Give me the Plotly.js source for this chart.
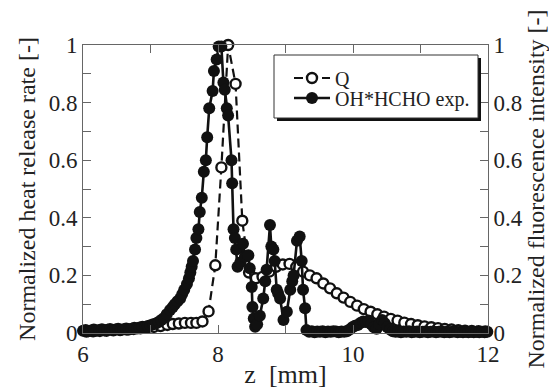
<!DOCTYPE html>
<html><head><meta charset="utf-8">
<script src="https://cdn.plot.ly/plotly-3.0.1.min.js"></script>
<style>html,body{margin:0;padding:0;background:#fff;}</style>
</head><body><div id="chart" style="width:549px;height:389px;"></div>
<script>
// Q (normalized heat release rate), open circles, dashed
const qZ = [6.05,6.15,6.25,6.35,6.45,6.55,6.65,6.75,6.85,6.95,7.05,7.15,7.25,7.33,
  7.42,7.51,7.60,7.68,7.77,7.86,7.96,8.05,8.15,8.26,8.36,8.46,8.56,8.66,8.76,8.86,
  8.96,9.06,9.16,9.26,9.36,9.46,9.56,9.66,9.76,9.86,9.96,10.06,10.16,10.26,10.36,
  10.46,10.56,10.66,10.76,10.86,10.96,11.06,11.16,11.26,11.36,11.46,11.56,11.66,
  11.76,11.86,11.96];
const qVal = [0.005,0.006,0.007,0.008,0.009,0.010,0.012,0.014,0.016,0.018,0.021,0.024,0.028,0.031,
  0.033,0.035,0.035,0.035,0.040,0.075,0.235,0.575,1.0,0.865,0.39,0.21,0.19,0.195,0.213,0.23,
  0.238,0.24,0.23,0.213,0.20,0.19,0.172,0.155,0.138,0.123,0.108,0.095,0.083,0.074,0.065,
  0.057,0.049,0.043,0.036,0.031,0.027,0.023,0.020,0.017,0.014,0.012,0.010,0.008,
  0.007,0.006,0.005];

// OH*HCHO experiment, filled circles, solid
const ohZ = [6.00,6.04,6.08,6.12,6.16,6.20,6.24,6.28,6.32,6.36,6.40,6.44,6.48,6.52,6.56,6.60,
  6.64,6.68,6.72,6.76,6.80,6.84,6.88,6.92,6.96,7.00,7.04,7.08,7.12,7.16,7.20,7.24,
  7.29,7.33,7.36,7.40,7.44,7.47,7.50,7.54,7.57,7.59,7.61,7.63,7.66,7.68,7.71,7.73,7.76,
  7.79,7.82,7.84,7.87,7.92,7.94,7.98,8.01,8.05,8.08,8.10,8.13,8.15,8.20,8.21,8.23,8.25,
  8.27,8.29,8.33,8.37,8.40,8.45,8.47,8.50,8.51,8.53,8.55,8.58,8.62,8.67,8.70,8.72,8.77,
  8.79,8.82,8.84,8.87,8.89,8.92,8.97,9.02,9.07,9.10,9.12,9.17,9.21,9.24,9.26,9.29,9.31,
  9.35,9.39,9.43,9.47,9.51,9.55,9.59,9.63,9.67,9.71,9.75,9.79,9.83,9.87,9.91,9.95,9.99,
  10.03,10.07,10.11,10.15,10.19,10.23,10.27,10.31,10.35,10.39,10.43,10.47,10.51,10.55,
  10.59,10.63,10.67,10.71,10.75,10.79,10.83,10.87,10.91,10.95,10.99,11.03,11.07,11.11,
  11.15,11.19,11.23,11.27,11.31,11.35,11.39,11.43,11.47,11.51,11.55,11.59,11.63,11.67,
  11.71,11.75,11.79,11.83,11.87,11.91,11.95,11.99];
const ohVal = [0.008,0.010,0.006,0.009,0.012,0.008,0.010,0.013,0.009,0.011,0.014,0.010,0.012,0.015,0.011,0.013,
  0.016,0.012,0.015,0.018,0.016,0.019,0.022,0.020,0.024,0.027,0.030,0.033,0.038,0.045,0.052,0.065,
  0.08,0.09,0.10,0.11,0.12,0.135,0.15,0.17,0.19,0.21,0.23,0.25,0.29,0.33,0.36,0.42,0.47,
  0.56,0.60,0.68,0.78,0.84,0.91,0.95,0.995,0.995,0.87,0.845,0.78,0.755,0.60,0.52,0.36,0.33,
  0.29,0.23,0.245,0.31,0.265,0.27,0.225,0.16,0.09,0.05,0.022,0.03,0.06,0.12,0.18,0.22,0.375,
  0.30,0.29,0.25,0.15,0.138,0.12,0.045,0.074,0.15,0.18,0.20,0.32,0.335,0.25,0.15,0.086,0.01,
  0.004,0.006,0.003,0.005,0.004,0.006,0.003,0.005,0.004,0.006,0.005,0.003,0.005,0.004,0.006,0.012,0.020,
  0.025,0.028,0.035,0.040,0.038,0.043,0.030,0.020,0.015,0.030,0.045,0.034,0.020,0.012,
  0.006,0.004,0.005,0.003,0.005,0.004,0.006,0.003,0.004,0.005,0.003,0.004,0.005,0.003,
  0.004,0.005,0.003,0.004,0.005,0.003,0.004,0.003,0.004,0.005,0.003,0.004,0.003,0.004,
  0.003,0.004,0.003,0.004,0.003,0.004,0.003,0.004];

const xTickVals = [6,8,10,12];
const yTickVals = [0,0.2,0.4,0.6,0.8,1];
const yTickText = ['0','0.2','0.4','0.6','0.8','1'];

const SERIF = 'Liberation Serif';
const AXC = '#666';

function tf(sz){ return {family:SERIF, size:sz, color:'#222'}; }

const traces = [
  {x:qZ, y:qVal, name:'Q', type:'scatter', mode:'lines+markers', cliponaxis:false, legend:'legend',
   line:{color:'#111', width:2.2, dash:'9px,5px'},
   marker:{symbol:'circle', size:10, color:'#fff', line:{color:'#111', width:2.4}}},
  {x:ohZ, y:ohVal, name:'OH*HCHO exp.', type:'scatter', mode:'lines+markers', yaxis:'y2', cliponaxis:false, legend:'legend2',
   line:{color:'#111', width:2.6},
   marker:{symbol:'circle', size:12, color:'#111'}}
];

function ax(extra){
  return Object.assign({
    ticks:'inside', ticklen:8, tickwidth:1, tickcolor:AXC,
    showline:true, linecolor:AXC, linewidth:1, showgrid:false, zeroline:false,
    tickfont:tf(23)
  }, extra);
}

function leg(ypx){
  return {x:(289-83)/405, xanchor:'left', y:(333-ypx)/288, yanchor:'middle',
    bgcolor:'rgba(0,0,0,0)', borderwidth:0, font:tf(20), itemwidth:36};
}

const layout = {
  width:549, height:389,
  margin:{l:83, r:61, t:45, b:56, pad:0},
  paper_bgcolor:'#fff', plot_bgcolor:'#fff',
  font:{family:SERIF, size:22, color:'#222'},
  showlegend:true,
  legend:leg(78),
  legend2:leg(98),
  xaxis:ax({range:[6,12], tickvals:xTickVals, mirror:'ticks',
    minor:{ticks:'inside', dtick:1, ticklen:8, tickcolor:AXC},
    title:{text:'z  [mm]', font:tf(26), standoff:2}}),
  yaxis:ax({range:[0,1], tickvals:yTickVals, ticktext:yTickText,
    minor:{ticks:'inside', dtick:0.1, ticklen:8, tickcolor:AXC},
    title:{text:'Normalized heat release rate [-]', font:tf(24), standoff:6}}),
  yaxis2:ax({range:[0,1], tickvals:yTickVals, ticktext:yTickText,
    overlaying:'y', side:'right',
    minor:{ticks:'inside', dtick:0.1, ticklen:8, tickcolor:AXC},
    title:{text:'Normalized fluorescence intensity [-]', font:tf(24), standoff:4}}),
  shapes:[
    {type:'rect', xref:'paper', yref:'paper', x0:(277-83)/405, x1:(481-83)/405, y0:(333-121)/288, y1:(333-58)/288,
     fillcolor:'#111', line:{width:0}, layer:'above'},
    {type:'rect', xref:'paper', yref:'paper', x0:(274-83)/405, x1:(478-83)/405, y0:(333-118)/288, y1:(333-55)/288,
     fillcolor:'#fff', line:{color:'#333', width:1}, layer:'above'}
  ]
};

Plotly.newPlot('chart', traces, layout, {displayModeBar:false});
</script>
</body></html>
